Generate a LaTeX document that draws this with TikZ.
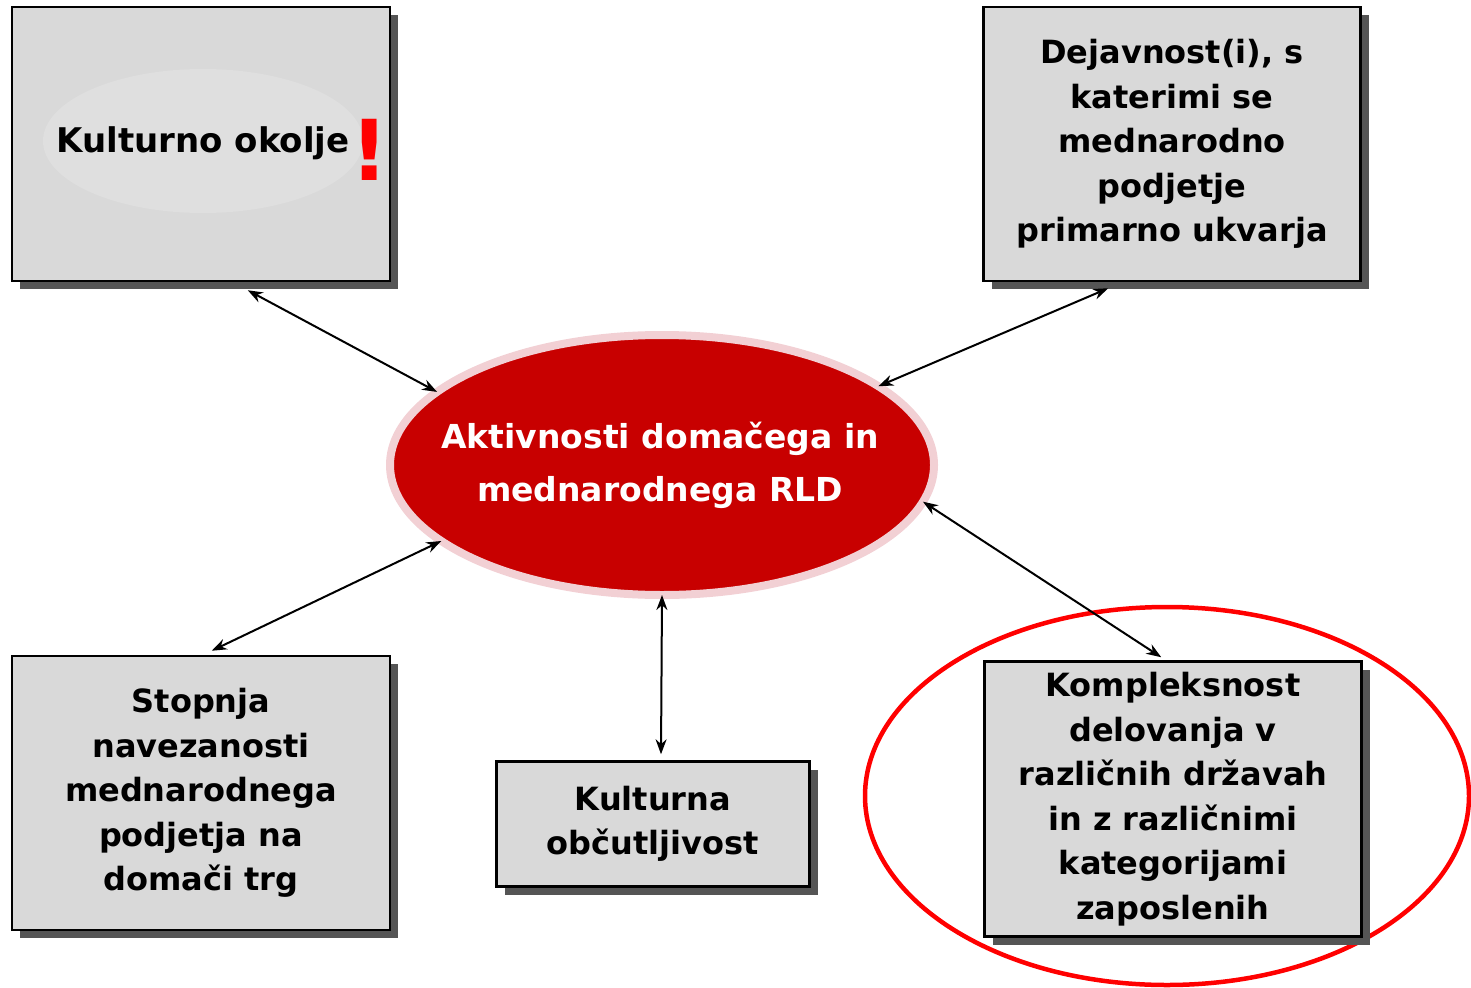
\documentclass[tikz,border=0pt]{standalone}
\usepackage{fontspec}
\setmainfont{DejaVu Sans}
\usetikzlibrary{shapes.geometric,shadows,calc,arrows.meta}
\definecolor{boxgray}{RGB}{217,217,217}
\definecolor{shadowgray}{RGB}{85,85,85}
\definecolor{faintgray}{RGB}{223,223,223}
\definecolor{rldred}{RGB}{200,0,0}
\definecolor{rldglow}{RGB}{242,208,212}
\begin{document}
\begin{tikzpicture}[x=1pt,y=-1pt]
            \tikzset{
                factor/.style={draw=black, line width=2.5pt, fill=boxgray, inner sep=0pt, align=center,
                    font=\fontsize{32}{44.5}\selectfont\bfseries,
                    drop shadow={shadow xshift=8pt, shadow yshift=-8pt, fill=shadowgray, opacity=1}},
                link/.style={line width=2pt, {Stealth[length=15pt,width=11pt]}-{Stealth[length=15pt,width=11pt]}},}
            \useasboundingbox (0,0) rectangle (1471,987);
            % highlight round the last factor
            \draw [red, line width=4.5pt] (1167,796) ellipse [x radius=302, y radius=189];
            % the five factors
            \node [factor, minimum width=378pt, minimum height=274pt] (kult) at (201,144) {};
            \fill [faintgray] (203,141) ellipse [x radius=160, y radius=72];
            \node [font=\fontsize{34}{40}\selectfont\bfseries] (kulttxt) at (203,143) {Kulturno okolje};
            \node [text=red, font=\fontsize{84}{84}\selectfont\bfseries] (excl) at (370,150) {!};
            \node [factor, minimum width=377pt, minimum height=274pt] (dej) at (1172,144)
                {Dejavnost(i), s\\katerimi se\\mednarodno\\podjetje\\primarno ukvarja};
            \node [factor, minimum width=378pt, minimum height=274pt] (stop) at (201,793)
                {Stopnja\\navezanosti\\mednarodnega\\podjetja na\\domači trg};
            \node [factor, minimum width=313pt, minimum height=125pt] (obc) at (653,824)
                {Kulturna\\občutljivost};
            \node [factor, minimum width=377pt, minimum height=275pt] (komp) at (1173,799)
                {Kompleksnost\\delovanja v\\različnih državah\\in z različnimi\\kategorijami\\zaposlenih};
            % centre
            \node [ellipse, fill=rldred, draw=rldglow, line width=8pt, inner sep=0pt, outer sep=0pt,
                minimum width=544pt, minimum height=260pt] (rld) at (662,465) {};
            \node [text=white, align=center, font=\fontsize{33}{53}\selectfont\bfseries] (rldtxt) at (660,465)
                {Aktivnosti domačega in\\mednarodnega RLD};
            % links
            \draw [link] ($(kult.south west)+(237,8)$) -- (rld.162);
            \draw [link] ($(dej.south west)+(126,6)$) -- (rld.20);
            \draw [link] ($(stop.north west)+(201,-4)$) -- (rld.199);
            \draw [link] ($(obc.north)+(8,-6)$) -- (rld.south);
            \draw [link] ($(komp.north west)+(178,-3)$) -- (rld.352);
        \end{tikzpicture}
\end{document}
